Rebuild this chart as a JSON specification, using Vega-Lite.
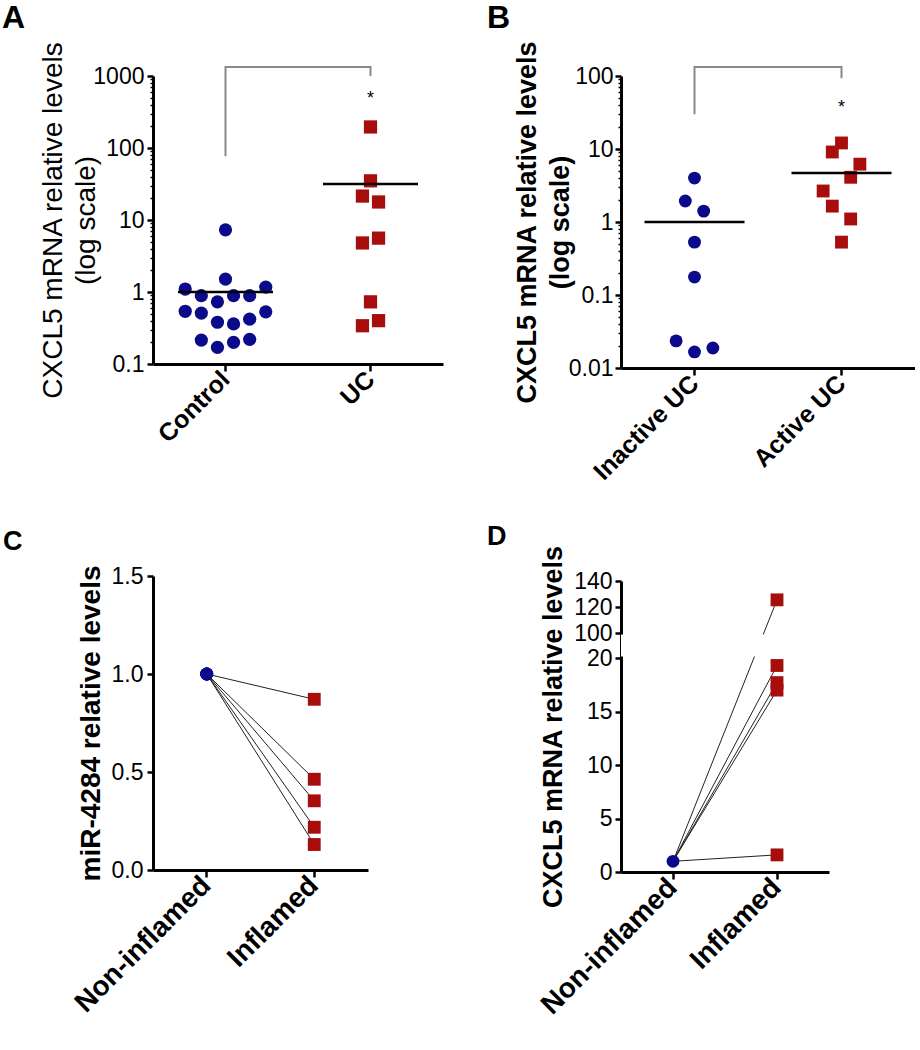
{
  "$schema": "https://vega.github.io/schema/vega-lite/v6.json",
  "background": "white",
  "padding": {"left": 2, "top": 2, "right": 0, "bottom": 0},
  "autosize": {"type": "pad"},
  "bounds": "flush",
  "columns": 2,
  "spacing": {"row": 208, "column": 178},
  "config": {
    "font": "Liberation Sans",
    "view": {"stroke": null},
    "axis": {"domainColor": "black", "tickColor": "black", "labelColor": "black", "titleColor": "black", "grid": false, "labelFont": "Liberation Sans", "titleFont": "Liberation Sans", "labelFontSize": 23, "titleFontSize": 27, "domainWidth": 3, "tickWidth": 2.5, "zindex": 0},
    "title": {"color": "black", "font": "Liberation Sans"}
  },
  "resolve": {"scale": {"x": "independent", "y": "independent", "color": "independent", "shape": "independent", "xOffset": "independent"}},
  "concat": [
    {
      "width": 290,
      "height": 288,
      "title": {"text": "A", "anchor": "start", "frame": "group", "fontSize": 32, "fontWeight": "bold", "dx": -151, "dy": -2},
      "layer": [
        {
          "data": {"values": [
            {"group": "Control", "value": 77, "ord": 1},
            {"group": "Control", "value": 1334, "ord": 2},
            {"group": "UC", "value": 1334, "ord": 3},
            {"group": "UC", "value": 1000, "ord": 4}
          ]},
          "mark": {"type": "line", "color": "#8a8a8a", "strokeWidth": 2},
          "encoding": {
            "x": {"field": "group", "type": "nominal", "sort": ["Control", "UC"], "scale": {"type": "band", "domain": ["Control", "UC"], "paddingInner": 0, "paddingOuter": 0}, "axis": {"title": null, "labelAngle": -45, "labelAlign": "right", "labelBaseline": "middle", "labelFontSize": 25, "labelFontWeight": "bold", "tickSize": 7, "labelPadding": 4}},
            "y": {"field": "value", "type": "quantitative", "scale": {"type": "log", "domain": [0.1, 1000], "nice": false},
              "axis": {"title": ["CXCL5 mRNA relative levels", "(log scale)"], "titleFontWeight": "normal", "titleFontSize": 28, "titleLineHeight": 33, "titlePadding": -8, "values": [0.1, 0.2, 0.3, 0.4, 0.5, 0.6, 0.7, 0.8, 0.9, 1, 2, 3, 4, 5, 6, 7, 8, 9, 10, 20, 30, 40, 50, 60, 70, 80, 90, 100, 200, 300, 400, 500, 600, 700, 800, 900, 1000], "format": "~g", "labelExpr": "indexof([0.1, 1, 10, 100, 1000], datum.value) >= 0 ? datum.label : ''", "tickSize": {"condition": {"test": "indexof([0.1, 1, 10, 100, 1000], datum.value) >= 0", "value": 6}, "value": 3}, "tickWidth": {"condition": {"test": "indexof([0.1, 1, 10, 100, 1000], datum.value) >= 0", "value": 2.5}, "value": 1.5}, "labelOverlap": false, "labelBound": false, "labelPadding": 3}},
            "order": {"field": "ord", "type": "quantitative"}
          }
        },
        {
          "data": {"values": [{"group": "UC", "value": 480, "t": "*"}]},
          "mark": {"type": "text", "fontSize": 18, "baseline": "middle", "color": "black"},
          "encoding": {
            "x": {"field": "group", "type": "nominal"},
            "y": {"field": "value", "type": "quantitative"},
            "text": {"field": "t"}
          }
        },
        {
          "data": {"values": [
            {"group": "Control", "value": 7.3, "slot": 0},
            {"group": "Control", "value": 1.51, "slot": 0},
            {"group": "Control", "value": 1.10, "slot": -5},
            {"group": "Control", "value": 1.17, "slot": 5},
            {"group": "Control", "value": 0.89, "slot": -3},
            {"group": "Control", "value": 0.89, "slot": 1},
            {"group": "Control", "value": 0.89, "slot": 3},
            {"group": "Control", "value": 0.73, "slot": -1},
            {"group": "Control", "value": 0.54, "slot": -5},
            {"group": "Control", "value": 0.53, "slot": 5},
            {"group": "Control", "value": 0.51, "slot": -3},
            {"group": "Control", "value": 0.38, "slot": -1},
            {"group": "Control", "value": 0.36, "slot": 1},
            {"group": "Control", "value": 0.42, "slot": 3},
            {"group": "Control", "value": 0.215, "slot": -3},
            {"group": "Control", "value": 0.20, "slot": 1},
            {"group": "Control", "value": 0.22, "slot": 3},
            {"group": "Control", "value": 0.17, "slot": -1},
            {"group": "UC", "value": 196, "slot": 0},
            {"group": "UC", "value": 35, "slot": 0},
            {"group": "UC", "value": 21.5, "slot": -1},
            {"group": "UC", "value": 17.8, "slot": 1},
            {"group": "UC", "value": 5.6, "slot": 1},
            {"group": "UC", "value": 4.8, "slot": -1},
            {"group": "UC", "value": 0.73, "slot": 0},
            {"group": "UC", "value": 0.40, "slot": 1},
            {"group": "UC", "value": 0.34, "slot": -1}
          ]},
          "mark": {"type": "point", "filled": true, "size": 175, "opacity": 1},
          "encoding": {
            "x": {"field": "group", "type": "nominal"},
            "xOffset": {"field": "slot", "type": "quantitative", "scale": {"domain": [-9, 9]}},
            "y": {"field": "value", "type": "quantitative"},
            "color": {"field": "group", "type": "nominal", "scale": {"domain": ["Control", "UC"], "range": ["#0a0a8a", "#a80d0d"]}, "legend": null},
            "shape": {"field": "group", "type": "nominal", "scale": {"domain": ["Control", "UC"], "range": ["circle", "square"]}, "legend": null}
          }
        },
        {
          "data": {"values": [{"group": "Control", "mean": 1.0}, {"group": "UC", "mean": 31.6}]},
          "mark": {"type": "tick", "orient": "horizontal", "size": 95, "thickness": 2.5, "color": "black", "opacity": 1},
          "encoding": {
            "x": {"field": "group", "type": "nominal"},
            "y": {"field": "mean", "type": "quantitative"}
          }
        }
      ]
    },
    {
      "width": 294,
      "height": 292,
      "title": {"text": "B", "anchor": "start", "frame": "group", "fontSize": 32, "fontWeight": "bold", "dx": -134, "dy": -1},
      "layer": [
        {
          "data": {"values": [
            {"group": "Inactive UC", "value": 30, "ord": 1},
            {"group": "Inactive UC", "value": 133, "ord": 2},
            {"group": "Active UC", "value": 133, "ord": 3},
            {"group": "Active UC", "value": 93, "ord": 4}
          ]},
          "mark": {"type": "line", "color": "#8a8a8a", "strokeWidth": 2},
          "encoding": {
            "x": {"field": "group", "type": "nominal", "sort": ["Inactive UC", "Active UC"], "scale": {"type": "band", "domain": ["Inactive UC", "Active UC"], "paddingInner": 0, "paddingOuter": 0}, "axis": {"title": null, "labelAngle": -45, "labelAlign": "right", "labelBaseline": "middle", "labelFontSize": 25, "labelFontWeight": "bold", "tickSize": 7, "labelPadding": 4}},
            "y": {"field": "value", "type": "quantitative", "scale": {"type": "log", "domain": [0.01, 100], "nice": false},
              "axis": {"title": ["CXCL5 mRNA relative levels", "(log scale)"], "titleFontWeight": "bold", "titleLineHeight": 33, "titlePadding": -6, "values": [0.01, 0.02, 0.03, 0.04, 0.05, 0.06, 0.07, 0.08, 0.09, 0.1, 0.2, 0.3, 0.4, 0.5, 0.6, 0.7, 0.8, 0.9, 1, 2, 3, 4, 5, 6, 7, 8, 9, 10, 20, 30, 40, 50, 60, 70, 80, 90, 100], "format": "~g", "labelExpr": "indexof([0.01, 0.1, 1, 10, 100], datum.value) >= 0 ? datum.label : ''", "tickSize": {"condition": {"test": "indexof([0.01, 0.1, 1, 10, 100], datum.value) >= 0", "value": 6}, "value": 3}, "tickWidth": {"condition": {"test": "indexof([0.01, 0.1, 1, 10, 100], datum.value) >= 0", "value": 2.5}, "value": 1.5}, "labelOverlap": false, "labelBound": false, "labelPadding": 2}},
            "order": {"field": "ord", "type": "quantitative"}
          }
        },
        {
          "data": {"values": [{"group": "Active UC", "value": 36, "t": "*"}]},
          "mark": {"type": "text", "fontSize": 18, "baseline": "middle", "color": "black"},
          "encoding": {
            "x": {"field": "group", "type": "nominal"},
            "y": {"field": "value", "type": "quantitative"},
            "text": {"field": "t"}
          }
        },
        {
          "data": {"values": [
            {"group": "Inactive UC", "value": 4.0, "slot": 0},
            {"group": "Inactive UC", "value": 1.94, "slot": -1},
            {"group": "Inactive UC", "value": 1.41, "slot": 1},
            {"group": "Inactive UC", "value": 0.53, "slot": 0},
            {"group": "Inactive UC", "value": 0.176, "slot": 0},
            {"group": "Inactive UC", "value": 0.0235, "slot": -2},
            {"group": "Inactive UC", "value": 0.0166, "slot": 0},
            {"group": "Inactive UC", "value": 0.0188, "slot": 2},
            {"group": "Active UC", "value": 12.1, "slot": 0},
            {"group": "Active UC", "value": 9.1, "slot": -1},
            {"group": "Active UC", "value": 6.2, "slot": 2},
            {"group": "Active UC", "value": 4.1, "slot": 1},
            {"group": "Active UC", "value": 2.66, "slot": -2},
            {"group": "Active UC", "value": 1.65, "slot": -1},
            {"group": "Active UC", "value": 1.1, "slot": 1},
            {"group": "Active UC", "value": 0.53, "slot": 0}
          ]},
          "mark": {"type": "point", "filled": true, "size": 165, "opacity": 1},
          "encoding": {
            "x": {"field": "group", "type": "nominal"},
            "xOffset": {"field": "slot", "type": "quantitative", "scale": {"domain": [-8, 8]}},
            "y": {"field": "value", "type": "quantitative"},
            "color": {"field": "group", "type": "nominal", "scale": {"domain": ["Inactive UC", "Active UC"], "range": ["#0a0a8a", "#a80d0d"]}, "legend": null},
            "shape": {"field": "group", "type": "nominal", "scale": {"domain": ["Inactive UC", "Active UC"], "range": ["circle", "square"]}, "legend": null}
          }
        },
        {
          "data": {"values": [{"group": "Inactive UC", "mean": 1.0}, {"group": "Active UC", "mean": 4.7}]},
          "mark": {"type": "tick", "orient": "horizontal", "size": 100, "thickness": 2.5, "color": "black", "opacity": 1},
          "encoding": {
            "x": {"field": "group", "type": "nominal"},
            "y": {"field": "mean", "type": "quantitative"}
          }
        }
      ]
    },
    {
      "width": 215,
      "height": 294,
      "title": {"text": "C", "anchor": "start", "frame": "group", "fontSize": 27, "fontWeight": "bold", "dx": -150, "dy": -5},
      "data": {"values": [
        {"pair": 1, "cond": "Non-inflamed", "value": 1.0},
        {"pair": 2, "cond": "Non-inflamed", "value": 1.0},
        {"pair": 3, "cond": "Non-inflamed", "value": 1.0},
        {"pair": 4, "cond": "Non-inflamed", "value": 1.0},
        {"pair": 5, "cond": "Non-inflamed", "value": 1.0},
        {"pair": 1, "cond": "Inflamed", "value": 0.871},
        {"pair": 2, "cond": "Inflamed", "value": 0.463},
        {"pair": 3, "cond": "Inflamed", "value": 0.353},
        {"pair": 4, "cond": "Inflamed", "value": 0.218},
        {"pair": 5, "cond": "Inflamed", "value": 0.130}
      ]},
      "encoding": {
        "x": {"field": "cond", "type": "nominal", "sort": ["Non-inflamed", "Inflamed"], "scale": {"type": "band", "domain": ["Non-inflamed", "Inflamed"], "paddingInner": 0, "paddingOuter": 0}, "axis": {"title": null, "labelAngle": -45, "labelAlign": "right", "labelBaseline": "middle", "labelFontSize": 28, "labelFontWeight": "bold", "tickSize": 7, "labelPadding": 4}},
        "y": {"field": "value", "type": "quantitative", "scale": {"domain": [0, 1.5], "nice": false, "zero": false}, "axis": {"title": "miR-4284 relative levels", "titleFontWeight": "bold", "titleFontSize": 28, "titlePadding": 6, "values": [0, 0.5, 1, 1.5], "format": ".1f", "tickSize": 6, "labelPadding": 4}}
      },
      "layer": [
        {
          "mark": {"type": "line", "color": "#222222", "strokeWidth": 1},
          "encoding": {"detail": {"field": "pair", "type": "nominal"}}
        },
        {
          "mark": {"type": "point", "filled": true, "size": 165, "opacity": 1},
          "encoding": {
            "color": {"field": "cond", "type": "nominal", "scale": {"domain": ["Non-inflamed", "Inflamed"], "range": ["#0a0a8a", "#a80d0d"]}, "legend": null},
            "shape": {"field": "cond", "type": "nominal", "scale": {"domain": ["Non-inflamed", "Inflamed"], "range": ["circle", "square"]}, "legend": null}
          }
        }
      ]
    },
    {
      "width": 208,
      "height": 296,
      "title": {"text": "D", "anchor": "start", "frame": "group", "fontSize": 27, "fontWeight": "bold", "dx": -134, "dy": 10},
      "layer": [
        {
          "data": {"values": [
            {"pair": 1, "cond": "Non-inflamed", "value": 1.0},
            {"pair": 2, "cond": "Non-inflamed", "value": 1.0},
            {"pair": 3, "cond": "Non-inflamed", "value": 1.0},
            {"pair": 4, "cond": "Non-inflamed", "value": 1.0},
            {"pair": 5, "cond": "Non-inflamed", "value": 1.0},
            {"pair": 1, "cond": "Inflamed", "value": 125.5},
            {"pair": 2, "cond": "Inflamed", "value": 19.3},
            {"pair": 3, "cond": "Inflamed", "value": 17.7},
            {"pair": 4, "cond": "Inflamed", "value": 17.0},
            {"pair": 5, "cond": "Inflamed", "value": 1.6}
          ]},
          "mark": {"type": "line", "color": "#222222", "strokeWidth": 1},
          "encoding": {
            "x": {"field": "cond", "type": "nominal", "sort": ["Non-inflamed", "Inflamed"], "scale": {"type": "band", "domain": ["Non-inflamed", "Inflamed"], "paddingInner": 0, "paddingOuter": 0}, "axis": {"title": null, "labelAngle": -45, "labelAlign": "right", "labelBaseline": "middle", "labelFontSize": 28, "labelFontWeight": "bold", "tickSize": 7, "labelPadding": 4}},
            "y": {"field": "value", "type": "quantitative", "scale": {"type": "linear", "domain": [0, 20, 100, 140], "range": [296, 82, 57, 5], "nice": false, "zero": false}, "axis": {"title": "CXCL5 mRNA relative levels", "titleFontWeight": "bold", "titleFontSize": 27, "titlePadding": 6, "values": [0, 5, 10, 15, 20, 100, 120, 140], "format": "d", "tickSize": 6, "labelPadding": 3, "labelOverlap": false, "labelBound": false}},
            "detail": {"field": "pair", "type": "nominal"}
          }
        },
        {
          "data": {"values": [{"lo": 20, "hi": 100}]},
          "mark": {"type": "rect", "color": "white", "opacity": 1, "xOffset": -8, "yOffset": -1.5, "y2Offset": 1.5},
          "encoding": {
            "y": {"field": "lo", "type": "quantitative"},
            "y2": {"field": "hi"}
          }
        },
        {
          "data": {"values": [
            {"cond": "Non-inflamed", "value": 1.0},
            {"cond": "Inflamed", "value": 125.5},
            {"cond": "Inflamed", "value": 19.3},
            {"cond": "Inflamed", "value": 17.7},
            {"cond": "Inflamed", "value": 17.0},
            {"cond": "Inflamed", "value": 1.6}
          ]},
          "mark": {"type": "point", "filled": true, "size": 165, "opacity": 1},
          "encoding": {
            "x": {"field": "cond", "type": "nominal"},
            "y": {"field": "value", "type": "quantitative"},
            "color": {"field": "cond", "type": "nominal", "scale": {"domain": ["Non-inflamed", "Inflamed"], "range": ["#0a0a8a", "#a80d0d"]}, "legend": null},
            "shape": {"field": "cond", "type": "nominal", "scale": {"domain": ["Non-inflamed", "Inflamed"], "range": ["circle", "square"]}, "legend": null}
          }
        }
      ]
    }
  ]
}
